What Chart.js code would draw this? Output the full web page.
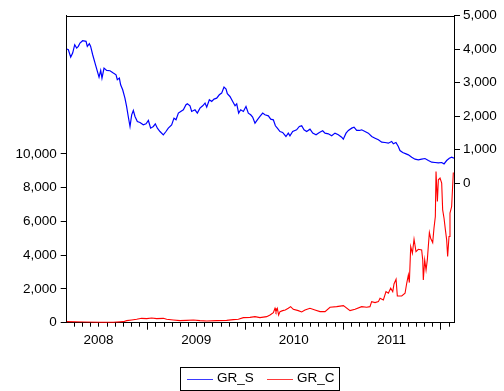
<!DOCTYPE html>
<html><head><meta charset="utf-8">
<script src="https://cdn.jsdelivr.net/npm/chart.js@4.4.0/dist/chart.umd.min.js"></script>
<style>
html,body{margin:0;padding:0;background:#fff;}
#wrap{position:relative;width:504px;height:391px;overflow:hidden;}
canvas{position:absolute;left:0;top:0;}
#legend{position:absolute;left:180px;top:367px;width:160px;height:24px;border:1px solid #000;box-sizing:border-box;font:13.5px "Liberation Sans",Arial,sans-serif;color:#000;}
.ln{position:absolute;top:11px;height:1px;width:26px;}
.tx{position:absolute;top:2px;line-height:16px;}
</style></head>
<body><div id="wrap"><canvas id="c" width="504" height="391"></canvas>
<div id="legend"><span class="ln" style="left:6px;background:#3a3aff"></span><span class="tx" style="left:36px">GR_S</span><span class="ln" style="left:86px;background:#ff3a3a"></span><span class="tx" style="left:116px">GR_C</span></div></div>
<script>
const tS = [2008.175,2008.192,2008.216,2008.236,2008.257,2008.277,2008.294,2008.311,2008.338,2008.373,2008.386,2008.407,2008.420,2008.441,2008.465,2008.489,2008.506,2008.523,2008.536,2008.557,2008.584,2008.618,2008.652,2008.680,2008.693,2008.714,2008.727,2008.748,2008.771,2008.788,2008.805,2008.823,2008.840,2008.857,2008.874,2008.898,2008.925,2008.959,2008.987,2009.011,2009.034,2009.062,2009.082,2009.103,2009.130,2009.164,2009.191,2009.215,2009.249,2009.273,2009.294,2009.318,2009.342,2009.369,2009.396,2009.410,2009.437,2009.454,2009.488,2009.512,2009.539,2009.567,2009.591,2009.608,2009.635,2009.659,2009.683,2009.710,2009.737,2009.761,2009.785,2009.806,2009.819,2009.846,2009.874,2009.898,2009.915,2009.935,2009.956,2009.983,2010.010,2010.034,2010.058,2010.078,2010.102,2010.126,2010.153,2010.181,2010.204,2010.239,2010.263,2010.290,2010.311,2010.331,2010.358,2010.385,2010.419,2010.443,2010.460,2010.488,2010.528,2010.556,2010.580,2010.604,2010.631,2010.665,2010.693,2010.727,2010.761,2010.795,2010.819,2010.853,2010.887,2010.921,2010.955,2010.989,2011.006,2011.034,2011.058,2011.092,2011.116,2011.143,2011.170,2011.194,2011.228,2011.262,2011.297,2011.331,2011.365,2011.399,2011.433,2011.467,2011.501,2011.518,2011.545,2011.569,2011.586,2011.614,2011.648,2011.672,2011.706,2011.740,2011.774,2011.808,2011.842,2011.877,2011.911,2011.945,2011.979,2012.013,2012.037,2012.064,2012.091,2012.115,2012.139];
const grS = [3999,3978,3759,3880,4129,4029,4079,4178,4248,4228,4079,4158,4079,3830,3581,3332,3163,3362,3133,3432,3362,3352,3283,3233,3084,3133,2934,2785,2536,2288,1989,1690,2039,2168,1989,1840,1810,1740,1770,1870,1641,1691,1770,1641,1541,1442,1541,1641,1740,1939,1890,2089,2139,2188,2338,2367,2308,2139,2188,2089,2238,2308,2387,2268,2487,2437,2507,2536,2636,2686,2865,2805,2666,2586,2437,2308,2367,2089,2188,2139,2288,2089,2039,1969,1790,1890,1989,2089,2039,2009,1910,1890,1711,1641,1541,1512,1392,1492,1412,1541,1591,1691,1711,1591,1541,1611,1492,1442,1512,1561,1492,1472,1412,1492,1442,1372,1313,1492,1572,1641,1671,1572,1572,1591,1541,1492,1392,1342,1293,1223,1213,1193,1243,1173,1213,1094,974,914,875,845,775,715,695,715,735,676,626,616,606,616,576,676,745,775,745];
const tC = [2008.175,2008.345,2008.516,2008.652,2008.755,2008.789,2008.840,2008.891,2008.942,2008.994,2009.045,2009.096,2009.164,2009.198,2009.266,2009.335,2009.403,2009.471,2009.539,2009.608,2009.710,2009.812,2009.880,2009.932,2009.983,2010.051,2010.102,2010.153,2010.222,2010.256,2010.290,2010.307,2010.317,2010.331,2010.344,2010.358,2010.385,2010.412,2010.443,2010.467,2010.494,2010.545,2010.580,2010.614,2010.665,2010.716,2010.768,2010.819,2010.870,2010.938,2011.007,2011.075,2011.126,2011.194,2011.245,2011.279,2011.296,2011.331,2011.365,2011.382,2011.416,2011.443,2011.467,2011.491,2011.512,2011.525,2011.546,2011.559,2011.604,2011.638,2011.655,2011.672,2011.682,2011.696,2011.713,2011.730,2011.750,2011.774,2011.808,2011.819,2011.825,2011.839,2011.853,2011.866,2011.876,2011.887,2011.900,2011.921,2011.934,2011.948,2011.955,2011.969,2011.979,2011.996,2012.013,2012.023,2012.037,2012.051,2012.064,2012.074,2012.088,2012.098,2012.115,2012.132];
const grC = [61,42,22,22,61,121,160,200,259,239,279,239,259,200,160,121,140,160,121,101,121,140,180,200,299,318,358,299,358,457,596,853,655,853,457,655,714,754,853,951,793,714,635,754,853,754,655,655,912,951,1011,714,793,951,912,951,1248,1189,1248,1446,1347,1842,1743,2040,1842,2297,2573,1584,1584,1743,2336,2830,2376,4512,4116,4947,4213,4352,4312,3719,2533,3719,3125,3719,4512,5343,5004,4747,5598,6290,8950,7181,8467,8566,8269,6687,6191,5499,4905,3917,5103,6488,6883,8900];

const leftTicks = [0,2000,4000,6000,8000,10000];
const rightTicks = [0,1000,2000,3000,4000,5000];
const yearLabels = ['2008','2009','2010','2011'];

const xMin = 2008.175, xMax = 2012.139;
const font = {family:'"Liberation Sans", Arial, sans-serif', size:13.5};
const fmt = v => Number(v).toLocaleString('en-US');

const frame = {
  id:'frame',
  afterDraw(chart){
    const {ctx, chartArea:a, scales:{x}} = chart;
    ctx.save();
    ctx.lineWidth = 1;
    ctx.strokeStyle = '#000';
    ctx.beginPath();
    ctx.moveTo(a.left, Math.round(a.top)+0.5); ctx.lineTo(a.right, Math.round(a.top)+0.5);
    for (let y = 2008; y <= 2012; y++) {
      for (let m = 0; m < 12; m++) {
        const v = y + m/12;
        if (v < xMin || v > xMax) continue;
        const px = Math.round(x.getPixelForValue(v)) + 0.5;
        ctx.moveTo(px, a.bottom); ctx.lineTo(px, a.bottom + (m === 0 ? 7 : 4));
      }
    }
    ctx.stroke();
    ctx.restore();
  }
};

new Chart(document.getElementById('c'), {
  type:'line',
  data:{datasets:[
    {label:'GR_S', data:tS.map((t,i)=>({x:t,y:grS[i]})), borderColor:'#0000ff', borderWidth:1.2, pointRadius:0, yAxisID:'yR', tension:0},
    {label:'GR_C', data:tC.map((t,i)=>({x:t,y:grC[i]})), borderColor:'#ff0000', borderWidth:1.1, pointRadius:0, yAxisID:'yL', tension:0}
  ]},
  options:{
    responsive:false, animation:false, devicePixelRatio:1,
    layout:{padding:{top:15.5,left:0,right:0,bottom:0}},
    plugins:{legend:{display:false}, tooltip:{enabled:false}},
    scales:{
      x:{type:'linear', position:'bottom', min:xMin, max:xMax,
        afterBuildTicks:s=>{const t=[]; for(let y=2008;y<=2012;y++) for(let m=0;m<12;m++){const v=y+m/12; if(v>=xMin-1e-9 && v<=xMax) t.push({value:v});} s.ticks=t;},
        ticks:{autoSkip:false, maxRotation:0, minRotation:0, padding:5, font, color:'#000',
          callback:(v)=>{const y=Math.floor(v+1e-6); const m=Math.round((v-y)*12); const i=y-2008; return (m===6 && yearLabels[i]) ? yearLabels[i] : '';}},
        grid:{drawOnChartArea:false, tickLength:4, tickColor:'rgba(0,0,0,0)'},
        border:{color:'#000', width:1},
        afterFit:s=>{s.height=68.3;}
      },
      yL:{type:'linear', position:'left', min:0, max:18200,
        afterBuildTicks:s=>{s.ticks=leftTicks.map(v=>({value:v}));},
        ticks:{padding:4, font, color:'#000', callback:fmt},
        grid:{drawOnChartArea:false, tickLength:6, tickColor:'#000'},
        border:{color:'#000', width:1},
        afterFit:s=>{s.width=66.7;}
      },
      yR:{type:'linear', position:'right', min:-4160, max:5000,
        afterBuildTicks:s=>{s.ticks=rightTicks.map(v=>({value:v}));},
        ticks:{padding:3, font, color:'#000', callback:fmt},
        grid:{drawOnChartArea:false, tickLength:6, tickColor:'#000'},
        border:{color:'#000', width:1},
        afterFit:s=>{s.width=50;}
      }
    }
  },
  plugins:[frame]
});
</script></body></html>
